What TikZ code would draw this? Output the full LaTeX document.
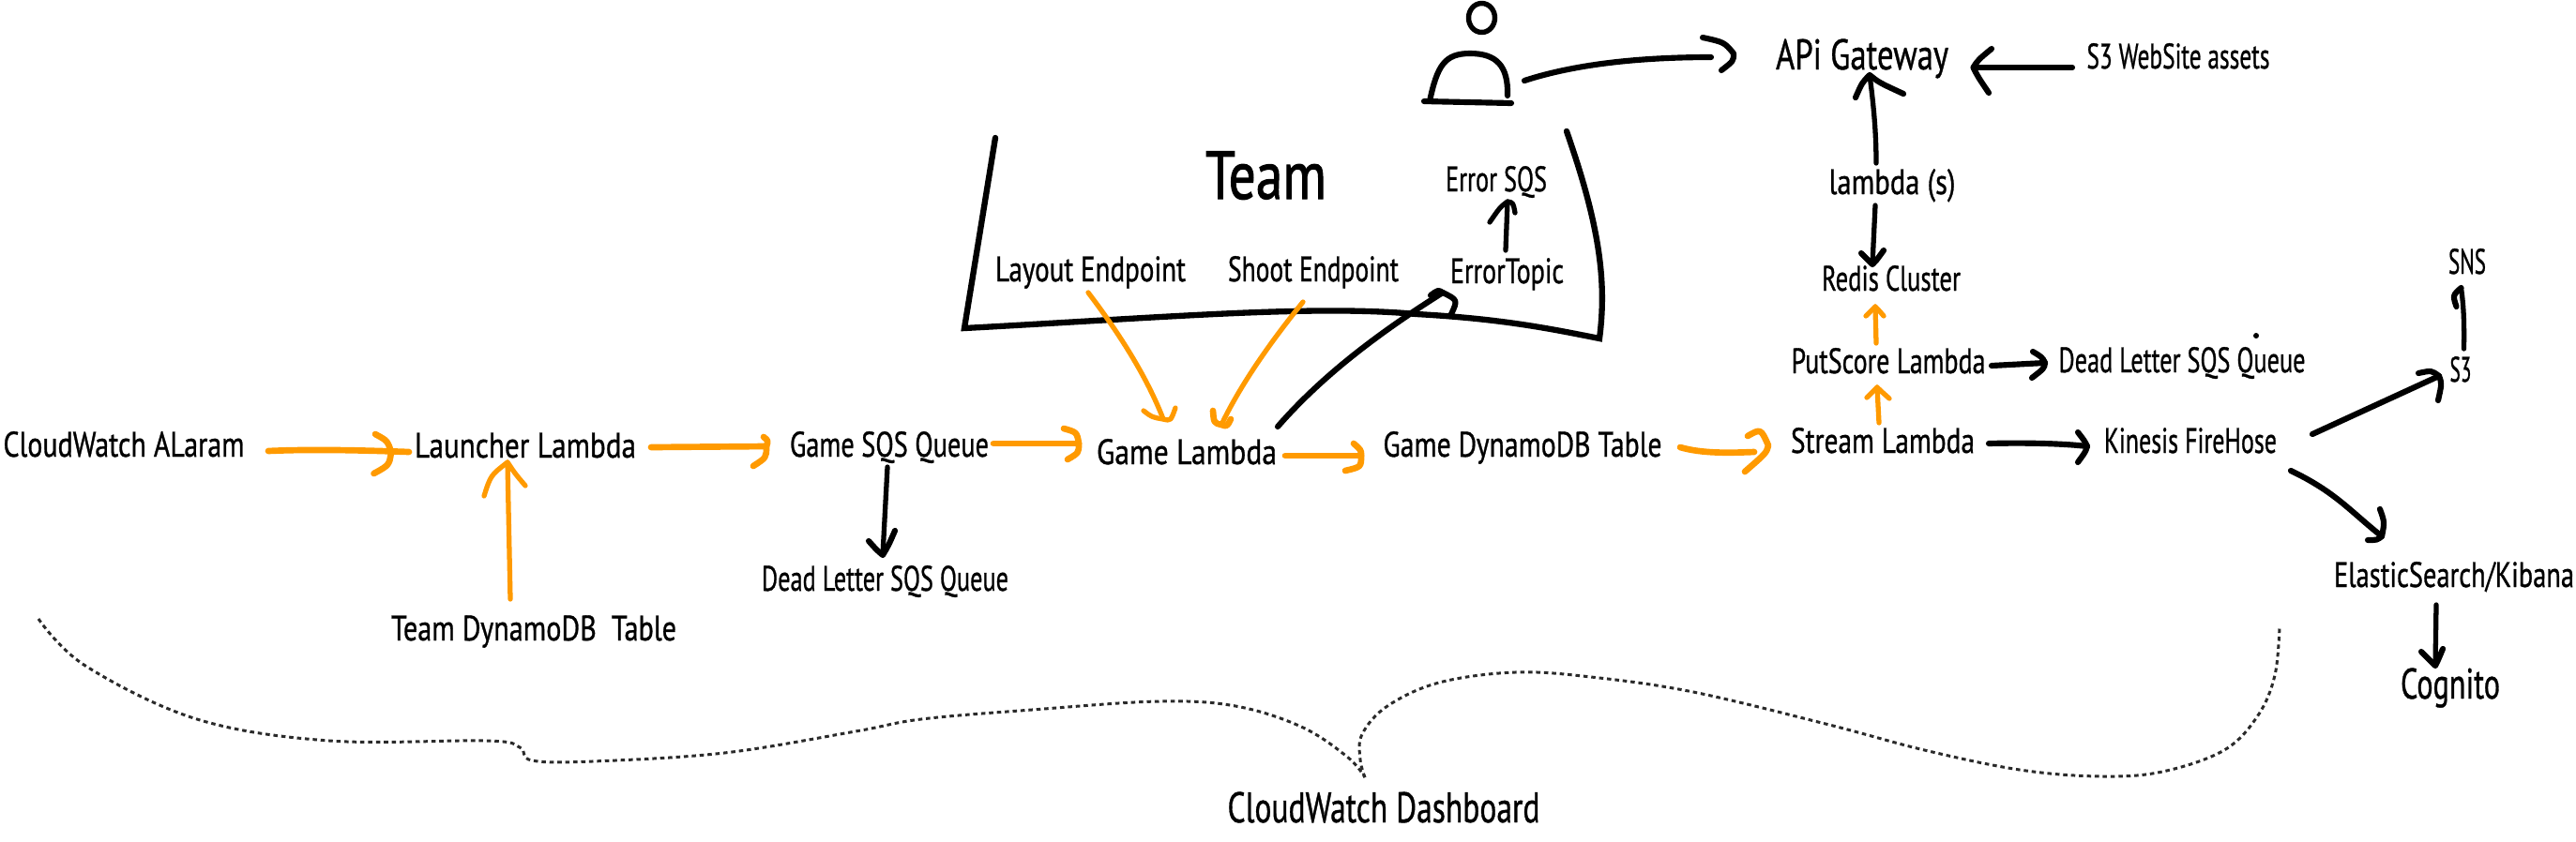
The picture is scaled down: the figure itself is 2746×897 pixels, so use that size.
\documentclass[tikz,border=0pt]{standalone}
\usepackage{fontspec}
\newfontfamily\handf[FakeBold=0.9]{PT Sans}
\newfontfamily\handh[FakeBold=1.6]{PT Sans}
\usetikzlibrary{shapes.geometric}
\newdimen\pxu \pxu=0.02cm
\newcommand\fitw[2]{\resizebox{#1\pxu}{\height}{#2}}
\newcommand\hd[6]{\begin{scope}[shift={(#2)}]\draw[#1] (#3) .. controls (#4) .. (0,0) .. controls (#5) .. (#6);\end{scope}}
\definecolor{orng}{HTML}{FF9A00}
\definecolor{dsh}{HTML}{2A2A2A}
\tikzset{
  lbl/.style={anchor=base,inner sep=0pt,outer sep=0pt,text=black,font=\handf\fontsize{21.5}{24}\selectfont},
  lblbig/.style={lbl,font=\handf\fontsize{26}{28}\selectfont},
  lblhuge/.style={lbl,font=\handh\fontsize{41}{44}\selectfont},
  blk/.style={draw=black,line width=3.5pt,line cap=round,line join=round},
  blkt/.style={draw=black,line width=3pt,line cap=round,line join=round},
  org/.style={draw=orng,line width=3.8pt,line cap=round,line join=round},
  orgt/.style={draw=orng,line width=3pt,line cap=round,line join=round},
  dotline/.style={draw=dsh,line width=1.7pt,dash pattern=on 2.6pt off 2.2pt},
  frame/.style={draw=black,line width=3.6pt,line cap=round,line join=miter}
}
\begin{document}
\begin{tikzpicture}[x=0.02cm,y=-0.02cm]
\fill[white] (0,0) rectangle (2746,897);
\useasboundingbox (0,0) rectangle (2746,897);
% labels
\node[lbl] (cw) at (132,487) {\fitw{257}{CloudWatch ALaram}};
\node[lbl] (ll) at (560,488) {\fitw{236}{Launcher Lambda}};
\node[lbl] (gs) at (948,487) {\fitw{212}{Game SQS Queue}};
\node[lbl] (gl) at (1265,495) {\fitw{192}{Game Lambda}};
\node[lbl] (gd) at (1623,487) {\fitw{297}{Game DynamoDB Table}};
\node[lbl] (sl) at (2007,483) {\fitw{196}{Stream Lambda}};
\node[lbl] (kf) at (2335,483) {\fitw{184}{Kinesis FireHose}};
\node[lbl] (ps) at (2013,398) {\fitw{207}{PutScore Lambda}};
\node[lbl] (dlb) at (2326,397) {\fitw{263}{Dead Letter SQS Queue}};
\node[lbl] (rc) at (2016,310) {\fitw{148}{Redis Cluster}};
\node[lbl] (la) at (2017,207) {\fitw{135}{lambda (s)}};
\node[lblbig] (ag) at (1985,74) {\fitw{184}{APi Gateway}};
\node[lbl] (swa) at (2322,73) {\fitw{195}{S3 WebSite assets}};
\node[lbl] (sn) at (2630,292) {\fitw{40}{SNS}};
\node[lbl] (st) at (2623,407) {\fitw{23}{S3}};
\node[lbl] (elk) at (2616,626) {\fitw{256}{ElasticSearch/Kibana}};
\node[lblbig] (co) at (2612,745) {\fitw{106}{Cognito}};
\node[lbl] (td) at (569,683) {\fitw{304}{Team DynamoDB\ \ Table}};
\node[lbl] (dla) at (943.5,630) {\fitw{263}{Dead Letter SQS Queue}};
\node[lblbig] (cd) at (1475,877) {\fitw{333}{CloudWatch Dashboard}};
\node[lblhuge] (te) at (1349.5,212) {\fitw{129}{Team}};
\node[lbl] (esq) at (1595,204) {\fitw{108}{Error SQS}};
\node[lbl] (et) at (1606.5,302) {\fitw{121}{ErrorTopic}};
\node[lbl] (le) at (1162.5,300) {\fitw{203}{Layout Endpoint}};
\node[lbl] (se) at (1400,300) {\fitw{182}{Shoot Endpoint}};
% person
\node[draw=black,line width=3.1pt,ellipse,minimum width=28\pxu,minimum height=31\pxu,inner sep=0pt] (ph) at (1579.5,19) {};
\draw[blk] (1524,108) .. controls (1532,70) and (1540,57) .. (1567,57) .. controls (1595,57) and (1608,70) .. (1607,102);
\draw[blk] (1518,108) -- (1611,110);
% team frame
\draw[frame] (1061,147) -- (1028,350) .. controls (1250,338) and (1400,325) .. (1510,335) .. controls (1600,340) and (1650,350) .. (1705,361) .. controls (1713,300) and (1705,240) .. (1670,140);
% dot
\fill[black] (2405,358) circle (3);
% connectors
\coordinate (t1) at ([shift={(-143,-6)}]ll.base);
\draw[org] ([shift={(154,-6)}]cw.base) .. controls (330,479) and (380,480) .. ([shift={(-124,-6)}]ll.base);
\hd{org}{t1}{-17,-19}{-4,-12}{-2,14}{-18.5,23}
\coordinate (t2) at ([shift={(-131,-11)}]gs.base);
\draw[org] ([shift={(134,-11)}]ll.base) -- (t2);
\hd{org}{t2}{-3,-10}{2,-6}{0,12}{-14,21}
\coordinate (t3) at ([shift={(-115,-22)}]gl.base);
\draw[org] ([shift={(111,-14)}]gs.base) -- (t3);
\hd{org}{t3}{-16,-16}{-2,-12}{0,10}{-12,17}
\coordinate (t4) at ([shift={(-172,-1)}]gd.base);
\draw[org] ([shift={(105,-9)}]gl.base) -- (t4);
\hd{org}{t4}{-8,-13}{0,-6}{0,12}{-17,16}
\coordinate (t5) at ([shift={(-122,-8)}]sl.base);
\draw[org] ([shift={(168,-10)}]gd.base) .. controls (1815,484) and (1845,483) .. ([shift={(-137,-1)}]sl.base);
\hd{org}{t5}{-22,-10}{-8,-18}{-2,8}{-25,28}
\coordinate (t6) at ([shift={(-12,15)}]ps.base);
\draw[orgt] ([shift={(-4,-32)}]sl.base) -- (t6);
\hd{orgt}{t6}{-11,11}{-4,4}{4,4}{13,12}
\coordinate (t7) at ([shift={(-17,17)}]rc.base);
\draw[orgt] ([shift={(-13,-32)}]ps.base) -- (t7);
\hd{orgt}{t7}{-10,10}{-3,3}{3,3}{9,10}
\coordinate (t8) at ([shift={(-20,-28)}]rc.base);
\draw[blkt] ([shift={(-18,12)}]la.base) -- (t8);
\hd{blk}{t8}{-12,-12}{-4,-4}{4,-4}{12,-15}
\coordinate (t9) at ([shift={(8,6)}]ag.base);
\draw[blkt] ([shift={(-17,-33)}]la.base) .. controls (2000,140) and (1997,110) .. (t9);
\hd{blk}{t9}{-15,24}{-8,8}{10,8}{36,20}
\coordinate (t10) at ([shift={(118.5,-2)}]ag.base);
\draw[blk] ([shift={(-113,-1)}]swa.base) -- (t10);
\hd{blk}{t10}{19.5,-20}{5,-8}{5,10}{16.5,27}
\coordinate (t11) at ([shift={(-137,-17)}]ag.base);
\draw[blk] ([shift={(45.5,67)}]ph.center) .. controls (1680,68) and (1750,61) .. ([shift={(-24,4)}]t11);
\hd{blk}{t11}{-33,-17}{-10,-12}{0,8}{-13,18}
\coordinate (t12) at ([shift={(-146,-10)}]dlb.base);
\draw[blk] ([shift={(110,-8)}]ps.base) -- (t12);
\hd{blk}{t12}{-13,-12}{-3,-6}{-1,6}{-14,16}
\coordinate (t13) at ([shift={(-110,-7)}]kf.base);
\draw[blk] ([shift={(113,-10)}]sl.base) .. controls (2160,472) and (2200,473) .. (t13);
\hd{blk}{t13}{-10,-15}{-3,-6}{-2,6}{-10,17}
\coordinate (t14) at ([shift={(-23,-6)}]st.base);
\draw[blk] ([shift={(130,-20)}]kf.base) -- (t14);
\hd{blk}{t14}{-22,-3}{-8,-6}{3,8}{-1,26}
\coordinate (t15) at ([shift={(-6.5,15)}]sn.base);
\draw[blkt] ([shift={(3.5,-35)}]st.base) .. controls (2627,340) and (2626,325) .. (t15);
\hd{blk}{t15}{-5,20}{-9,8}{0,0}{0,0}
\coordinate (t16) at ([shift={(-77,-54)}]elk.base);
\draw[blk] ([shift={(107,19)}]kf.base) .. controls (2490,525) and (2505,545) .. (t16);
\hd{blk}{t16}{-2,-29}{3,-15}{-5,4}{-15,4}
\coordinate (t17) at ([shift={(-16,-35)}]co.base);
\draw[blkt] ([shift={(-19,19)}]elk.base) -- (t17);
\hd{blk}{t17}{-15,-15}{-5,-5}{3,-6}{8,-18}
\coordinate (t18) at ([shift={(-19,5)}]ll.base);
\draw[orgt] ([shift={(-25,-44)}]td.base) -- (t18);
\hd{orgt}{t18}{-25,36}{-18,14}{8,12}{19,25}
\coordinate (t19) at ([shift={(-2.5,-38)}]dla.base);
\draw[blkt] ([shift={(-2,11)}]gs.base) -- (t19);
\hd{blk}{t19}{-15,-15}{-6,-5}{6,-10}{13,-26}
\coordinate (t20) at ([shift={(-25,-48)}]gl.base);
\draw[orgt] ([shift={(-2.5,12)}]le.base) .. controls (1185,345) and (1220,395) .. (t20);
\hd{orgt}{t20}{-21,-9}{-12,-2}{8,2}{13,-12}
\coordinate (t21) at ([shift={(37,-42)}]gl.base);
\draw[orgt] ([shift={(-11,22)}]se.base) .. controls (1350,370) and (1320,415) .. (t21);
\hd{org}{t21}{-9,-15}{-8,-2}{6,2}{10,-6}
\coordinate (t22) at ([shift={(-68.5,10)}]et.base);
\draw[blk] ([shift={(97,-40)}]gl.base) .. controls (1410,400) and (1470,355) .. (t22);
\hd{blk}{t22}{-13,3}{-5,-3}{16,8}{9,23}
\coordinate (t23) at ([shift={(12,11)}]esq.base);
\draw[blkt] ([shift={(-1.5,-35)}]et.base) -- (t23);
\hd{blkt}{t23}{-19,22}{-8,6}{6,1}{8,12}
% dashed bracket
\coordinate (dtip) at ([shift={(-20,-48)}]cd.base);
\draw[dotline] plot[smooth,tension=0.6] coordinates {(41,660) (91,710) (210,767) (351,790) (519,790) (554,797) (567,811) (631,812) (772,803) (912,780) (982,767) (1100,757) (1235,748) (1317,753) (1387,775) (1436,807) (1455,829)};
\draw[dotline] plot[smooth,tension=0.6] coordinates {(1455,829) (1450,810) (1452,783) (1479,753) (1534,728) (1615,717) (1696,722) (1805,738) (1950,773) (2051.5,800) (2153,821) (2239,828) (2305,823) (2371,800) (2407,763) (2425,720) (2430,668)};
\end{tikzpicture}
\end{document}
